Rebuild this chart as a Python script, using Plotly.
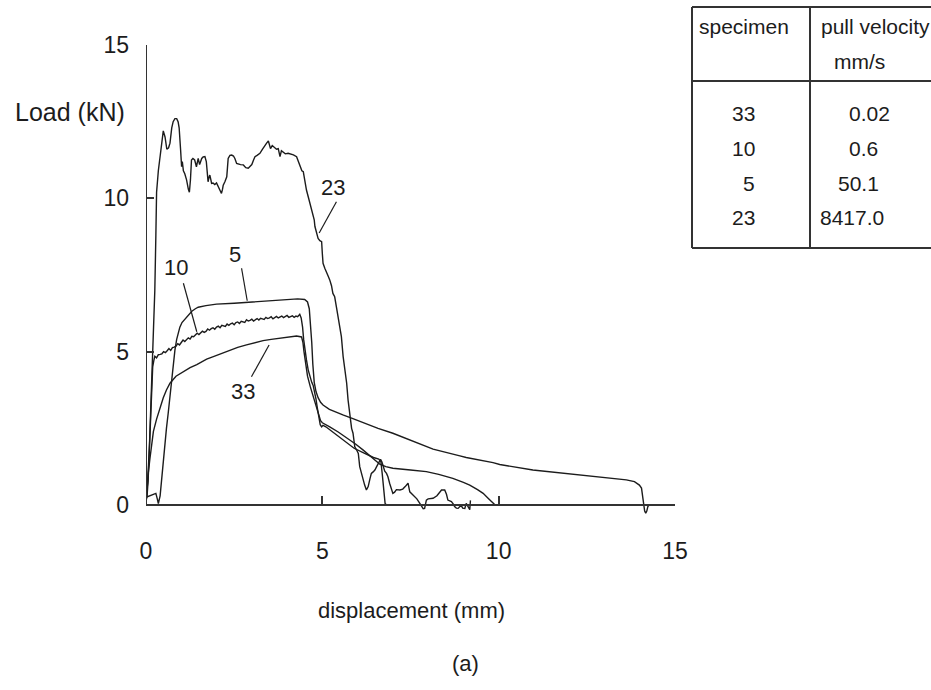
import plotly.graph_objects as go

# ---- load / displacement records (displacement in mm, load in kN) ----
spec33_x = [0.0, 0.02, 0.06, 0.11, 0.16, 0.21, 0.30, 0.40, 0.49, 0.58, 0.68, 0.85, 1.06, 1.25, 1.44,
            1.72, 1.91, 2.15, 2.38, 2.60, 2.85, 3.10, 3.32, 3.55, 3.80, 4.05, 4.27, 4.41, 4.45, 4.48,
            4.52, 4.58, 4.66, 4.75, 4.83, 4.90, 4.95, 5.00, 5.10, 5.21, 5.45, 5.69, 5.95, 6.16, 6.40,
            6.63, 6.80, 7.00, 7.50, 7.95, 8.30, 8.70, 9.00, 9.18, 9.40, 9.56, 9.70, 9.79, 9.86, 9.90]
spec33_y = [0.0, 0.5, 1.0, 1.5, 2.0, 2.4, 2.8, 3.2, 3.5, 3.75, 3.97, 4.2, 4.35, 4.48, 4.58,
            4.76, 4.84, 4.95, 5.05, 5.14, 5.22, 5.30, 5.36, 5.40, 5.44, 5.48, 5.51, 5.48, 5.3, 5.0,
            4.6, 4.2, 3.85, 3.5, 3.2, 2.95, 2.75, 2.68, 2.62, 2.55, 2.38, 2.2, 1.98, 1.79, 1.55,
            1.33, 1.25, 1.2, 1.14, 1.09, 1.0, 0.87, 0.74, 0.65, 0.5, 0.38, 0.22, 0.11, 0.03, 0.0]

spec10_x = [0.0, 0.03, 0.06, 0.09, 0.12, 0.14, 0.16, 0.19, 0.22,
            0.25, 0.30, 0.35, 0.40, 0.45, 0.50, 0.55, 0.60, 0.65, 0.70,
            0.75, 0.80, 0.85, 0.90, 0.95, 1.00, 1.05, 1.10, 1.15, 1.20,
            1.25, 1.30, 1.35, 1.40, 1.45, 1.50, 1.55, 1.60, 1.65, 1.70,
            1.75, 1.80, 1.85, 1.90, 1.95, 2.00, 2.05, 2.10, 2.15, 2.20,
            2.25, 2.30, 2.35, 2.40, 2.45, 2.50, 2.55, 2.60, 2.65, 2.70,
            2.75, 2.80, 2.85, 2.90, 2.95, 3.00, 3.05, 3.10, 3.15, 3.20,
            3.25, 3.30, 3.35, 3.40, 3.45, 3.50, 3.55, 3.60, 3.65, 3.70,
            3.75, 3.80, 3.85, 3.90, 3.95, 4.00, 4.05, 4.10, 4.15, 4.20,
            4.25, 4.30, 4.36, 4.40,
            4.44, 4.47, 4.51, 4.55, 4.60, 4.65, 4.70, 4.74, 4.78, 4.82, 4.86, 4.90, 4.94, 4.98,
            5.02, 5.10, 5.30, 5.60, 5.90, 6.20, 6.45, 6.60, 6.66, 6.70, 6.74, 6.78, 6.82]
spec10_y = [0.15, 0.3, 0.8, 1.6, 2.6, 3.4, 4.0, 4.5, 4.7,
            4.85, 4.80, 4.90, 4.91, 4.93, 5.00, 4.97, 5.03, 5.10, 5.04,
            5.13, 5.15, 5.18, 5.26, 5.22, 5.30, 5.38, 5.33, 5.40, 5.45,
            5.41, 5.50, 5.49, 5.55, 5.60, 5.56, 5.62, 5.67, 5.63, 5.66,
            5.74, 5.70, 5.75, 5.78, 5.73, 5.80, 5.83, 5.78, 5.86, 5.84,
            5.82, 5.90, 5.86, 5.91, 5.93, 5.88, 5.95, 5.97, 5.92, 5.99,
            5.98, 5.95, 6.04, 6.00, 6.02, 6.06, 6.00, 6.05, 6.08, 6.03,
            6.09, 6.07, 6.05, 6.12, 6.08, 6.10, 6.14, 6.07, 6.12, 6.15,
            6.10, 6.13, 6.16, 6.11, 6.14, 6.18, 6.12, 6.15, 6.17, 6.12,
            6.16, 6.14, 6.22, 6.10,
            5.8, 5.4, 5.0, 4.73, 4.4, 4.18, 4.0, 3.9, 3.7, 3.45, 3.15, 2.85, 2.62, 2.55,
            2.6, 2.55, 2.38, 2.1, 1.85, 1.68, 1.55, 1.5, 1.42, 1.0, 0.5, 0.05, 0.0]

spec5_x = [0.0, 0.15, 0.28, 0.32, 0.35, 0.40, 0.44, 0.49, 0.54, 0.58, 0.63, 0.68, 0.73, 0.77, 0.82,
           0.87, 0.92, 0.96, 1.02, 1.10, 1.20, 1.30, 1.40, 1.48, 1.70, 2.00, 2.50, 3.00, 3.50, 4.00,
           4.30, 4.50, 4.58, 4.63, 4.67, 4.70, 4.73, 4.77, 4.82, 4.88, 4.95, 5.02, 5.20, 5.35, 5.60,
           5.83, 6.20, 6.58, 7.00, 7.20, 7.67, 7.95, 8.14, 8.90, 9.08, 9.84, 10.03, 10.97, 11.92, 12.86,
           13.30, 13.62, 13.85, 13.99, 14.05, 14.08, 14.11, 14.14, 14.17, 14.20, 14.23, 14.27]
spec5_y = [0.25, 0.32, 0.38, 0.2, 0.05, 0.3, 0.82, 1.4, 1.9, 2.5, 3.0, 3.6, 4.08, 4.62, 5.05,
           5.4, 5.65, 5.8, 5.95, 6.05, 6.2, 6.32, 6.4, 6.45, 6.5, 6.55, 6.58, 6.62, 6.66, 6.70,
           6.72, 6.70, 6.62, 6.4, 5.9, 5.3, 4.6, 4.0, 3.7, 3.5, 3.35, 3.26, 3.12, 3.04, 2.93,
           2.83, 2.66, 2.50, 2.34, 2.25, 2.02, 1.90, 1.82, 1.60, 1.55, 1.38, 1.32, 1.14, 1.02, 0.92,
           0.87, 0.82, 0.76, 0.65, 0.55, 0.3, 0.05, -0.2, -0.27, -0.2, -0.05, 0.0]

spec23_x = [0.00, 0.05, 0.10, 0.15, 0.20, 0.25, 0.28, 0.30, 0.35, 0.40, 0.45, 0.49, 0.54, 0.59, 0.64,
            0.68, 0.73, 0.77, 0.82, 0.87, 0.91, 0.94, 0.98, 1.01, 1.03, 1.06, 1.10, 1.15, 1.20, 1.23,
            1.26, 1.29, 1.33, 1.38, 1.43, 1.46, 1.48, 1.52, 1.55, 1.58, 1.62, 1.67, 1.71, 1.74, 1.76,
            1.79, 1.81, 1.84, 1.86, 1.90, 1.95, 2.00, 2.05, 2.10, 2.14, 2.17, 2.19, 2.24, 2.29, 2.31,
            2.33, 2.38, 2.43, 2.48, 2.52, 2.57, 2.62, 2.68, 2.76, 2.83, 2.90, 2.95, 3.00, 3.05, 3.09,
            3.15, 3.23, 3.30, 3.37, 3.42, 3.47, 3.50, 3.53, 3.58, 3.63, 3.70, 3.75, 3.80, 3.84, 3.90,
            3.95, 4.03, 4.10, 4.18, 4.27, 4.32, 4.36, 4.42, 4.46, 4.50, 4.55, 4.60, 4.65, 4.70, 4.74,
            4.77, 4.79, 4.84, 4.88, 4.93, 4.98, 5.00, 5.02, 5.07, 5.12, 5.17, 5.21, 5.26, 5.30, 5.35,
            5.40, 5.45, 5.50, 5.54, 5.59, 5.64, 5.69, 5.73, 5.78, 5.83, 5.87, 5.92, 5.97, 6.02, 6.06,
            6.11, 6.16, 6.20, 6.25, 6.30, 6.35, 6.39, 6.44, 6.49, 6.54, 6.58, 6.62, 6.65, 6.69, 6.72,
            6.77, 6.82, 6.86, 6.91, 6.96, 7.00, 7.05, 7.10, 7.20, 7.28, 7.35, 7.43, 7.48, 7.53, 7.60,
            7.68, 7.75, 7.81, 7.86, 7.90, 7.95, 8.00, 8.14, 8.25, 8.33, 8.38, 8.47, 8.52, 8.56, 8.66,
            8.72, 8.75, 8.80, 8.85, 8.90, 8.94, 8.98, 9.04, 9.08, 9.13, 9.18, 9.19, 9.20]
spec23_y = [0.05, 0.8, 2.0, 3.5, 5.2, 7.0, 8.8, 10.2, 10.9, 11.36, 11.9, 12.2, 12.0, 11.6, 11.65,
            11.8, 12.3, 12.5, 12.6, 12.6, 12.5, 12.3, 11.6, 11.03, 11.2, 10.9, 10.8, 10.6, 10.3, 10.2,
            10.6, 11.25, 11.3, 11.25, 11.03, 11.2, 11.3, 11.1, 11.25, 11.3, 11.35, 11.36, 11.2, 10.8, 10.54,
            10.7, 10.76, 10.6, 10.49, 10.5, 10.45, 10.5, 10.38, 10.3, 10.16, 10.3, 10.43, 10.55, 10.7, 11.0,
            11.3, 11.4, 11.41, 11.38, 11.3, 11.14, 11.12, 11.1, 11.09, 11.0, 10.98, 11.05, 11.1, 11.25, 11.36,
            11.4, 11.47, 11.6, 11.74, 11.8, 11.87, 11.7, 11.62, 11.72, 11.68, 11.6, 11.62, 11.36, 11.55, 11.5,
            11.45, 11.47, 11.45, 11.42, 11.36, 11.2, 11.03, 10.9, 10.87, 10.55, 10.27, 10.05, 9.83, 9.65, 9.51,
            9.3, 9.08, 8.85, 8.69, 8.62, 8.59, 8.2, 7.88, 7.72, 7.61, 7.45, 7.34, 7.15, 6.9, 6.79,
            6.45, 6.14, 5.8, 5.49, 4.84, 4.4, 3.97, 3.42, 2.88, 2.5, 2.34, 1.9, 1.8, 1.68, 1.25,
            1.0, 0.82, 0.65, 0.49, 0.6, 0.85, 1.03, 1.08, 1.14, 1.25, 1.36, 1.45, 1.49, 1.4, 1.25,
            1.1, 1.03, 0.92, 0.7, 0.49, 0.38, 0.42, 0.5, 0.49, 0.52, 0.6, 0.71, 0.43, 0.38, 0.3,
            0.2, 0.08, -0.05, -0.12, -0.11, 0.16, 0.2, 0.22, 0.3, 0.4, 0.49, 0.49, 0.35, 0.16, 0.11,
            0.02, -0.05, -0.1, -0.11, -0.05, -0.02, -0.1, -0.11, 0.05, -0.05, -0.15, 0.0, 0.15]

# curve labels: text, label position, leader line start and end
curve_labels = ["23", "10", "5", "33"]
label_pos = [(5.30, 10.34), (0.85, 7.73), (2.52, 8.18), (2.75, 3.70)]
leader_from = [(5.40, 9.89), (1.06, 7.23), (2.71, 7.72), (2.99, 4.18)]
leader_to = [(4.91, 8.87), (1.44, 5.65), (2.87, 6.66), (3.49, 5.22)]

# side table
specimens = ["33", "10", "5", "23"]
velocities = ["0.02", "0.6", "50.1", "8417.0"]

x_ticks = [0, 5, 10, 15]
y_ticks = [0, 5, 10, 15]

# ---- page geometry (pixels) ----
W, H = 931, 690
ML, MR, MT, MB = 146, 256, 45, 167
Y0_PX = 505                      # pixel row of zero load
KN_PX = (Y0_PX - MT) / 15.0      # pixels per kN
Y_MIN = -(H - MB - Y0_PX) / KN_PX
PLOT_W = W - ML - MR
PLOT_H = H - MT - MB

INK = "#1c1c1c"
AXIS = "#333333"
FONT = "Liberation Sans, Arial, sans-serif"


def paper(px, py):
    """Convert page pixels into paper coordinates of the plot area."""
    return (px - ML) / PLOT_W, (H - MB - py) / PLOT_H


fig = go.Figure()
for xs, ys in [(spec33_x, spec33_y), (spec10_x, spec10_y), (spec5_x, spec5_y), (spec23_x, spec23_y)]:
    fig.add_trace(go.Scatter(x=xs, y=ys, mode="lines",
                             line=dict(color=INK, width=1.4), showlegend=False,
                             hoverinfo="skip"))

shapes = []
# vertical load axis from 0 to 15 kN
shapes.append(dict(type="line", xref="x", yref="y", x0=0, y0=0, x1=0, y1=15,
                   line=dict(color=AXIS, width=2)))
# leader lines for the curve labels
for (xa, ya), (xb, yb) in zip(leader_from, leader_to):
    shapes.append(dict(type="line", xref="x", yref="y", x0=xa, y0=ya, x1=xb, y1=yb,
                       line=dict(color=INK, width=1.2)))


def hline(px0, px1, py):
    a, b = paper(px0, py)
    c, _ = paper(px1, py)
    return dict(type="line", xref="paper", yref="paper", x0=a, y0=b, x1=c, y1=b,
                line=dict(color=AXIS, width=2))


def vline(px, py0, py1):
    a, b = paper(px, py0)
    _, d = paper(px, py1)
    return dict(type="line", xref="paper", yref="paper", x0=a, y0=b, x1=a, y1=d,
                line=dict(color=AXIS, width=2))


# table frame (open on the right)
shapes += [hline(692, 940, 7), hline(692, 940, 81), hline(692, 940, 248),
           vline(692, 7, 248), vline(810, 7, 248)]

annotations = []
for text, (lx, ly) in zip(curve_labels, label_pos):
    annotations.append(dict(x=lx, y=ly, xref="x", yref="y", text=text, showarrow=False,
                            font=dict(size=22, color=INK, family=FONT)))


def page_text(text, px, py, anchor="left", size=21):
    x, y = paper(px, py)
    return dict(x=x, y=y, xref="paper", yref="paper", text=text, showarrow=False,
                xanchor=anchor, yanchor="middle", font=dict(size=size, color=INK, family=FONT))


annotations.append(page_text("Load (kN)", 127, 112, anchor="right", size=25))
annotations.append(page_text("displacement (mm)", 411, 610, anchor="center", size=22))
annotations.append(page_text("(a)", 465, 663, anchor="center", size=22))

annotations.append(page_text("specimen", 697, 27))
annotations.append(page_text("pull velocity", 819, 27))
annotations.append(page_text("mm/s", 832, 62))
row_y = [113, 148, 183, 217]
vel_left = [847, 847, 836, 818]
for s, v, ry, vx in zip(specimens, velocities, row_y, vel_left):
    annotations.append(page_text(s, 757, ry, anchor="right"))
    annotations.append(page_text(v, vx, ry, anchor="left"))

fig.update_layout(
    width=W, height=H,
    margin=dict(l=ML, r=MR, t=MT, b=MB, pad=0),
    paper_bgcolor="white", plot_bgcolor="white",
    font=dict(family=FONT, color=INK, size=22),
    shapes=shapes, annotations=annotations,
    xaxis=dict(range=[0, 15], tickvals=x_ticks, ticktext=[str(t) for t in x_ticks],
               showgrid=False, zeroline=False, showline=True, linecolor=AXIS, linewidth=2,
               ticks="inside", ticklen=8, tickwidth=1.5, tickcolor=AXIS,
               anchor="free", position=(H - MB - Y0_PX) / PLOT_H,
               ticklabelstandoff=25, tickfont=dict(size=23, family=FONT, color=INK)),
    yaxis=dict(range=[Y_MIN, 15], tickvals=y_ticks, ticktext=[str(t) for t in y_ticks],
               showgrid=False, zeroline=False, showline=False,
               ticks="inside", ticklen=8, tickwidth=1.5, tickcolor=AXIS,
               ticklabelstandoff=16, tickfont=dict(size=23, family=FONT, color=INK)),
)

fig.write_html("out.html")
